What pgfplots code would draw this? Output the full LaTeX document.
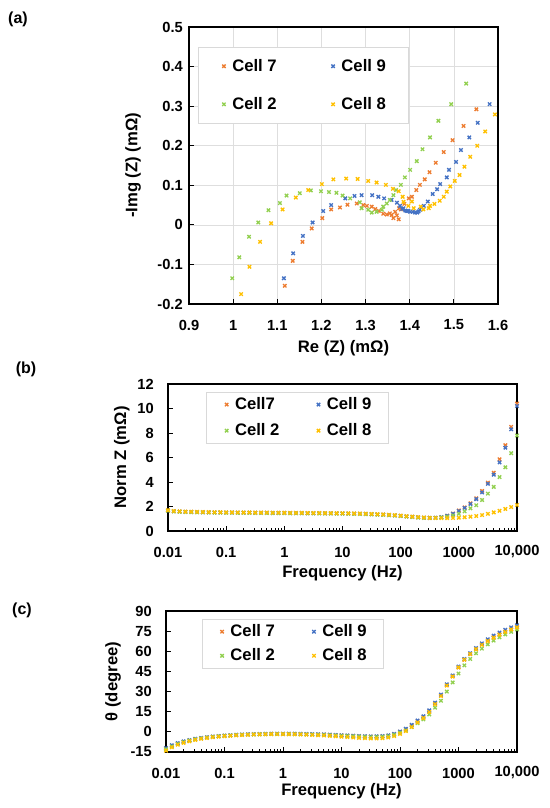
\documentclass[border=0pt]{standalone}
\usepackage{fontspec}
\setmainfont{Liberation Sans}
\usepackage{pgfplots}
\pgfplotsset{compat=1.18}
\usepackage{pgfplotstable}
\definecolor{cA}{HTML}{ED7D31}
\definecolor{cB}{HTML}{4472C4}
\definecolor{cC}{HTML}{92D050}
\definecolor{cD}{HTML}{FFC000}

\pgfplotstableread{
f z7 z9 z2 z8 t7 t9 t2 t8
0.01    1.68 1.66 1.65 1.70  -12.5 -12.0 -13.0 -14.0
0.01259 1.62 1.61 1.60 1.63  -10.4 -10.0 -10.8 -11.5
0.01585 1.59 1.58 1.57 1.60  -8.7 -8.4 -9.0 -9.6
0.01995 1.57 1.56 1.55 1.58  -7.4 -7.1 -7.6 -8.2
0.02512 1.56 1.55 1.54 1.57  -6.3 -6.1 -6.5 -7.0
0.03162 1.55 1.54 1.53 1.56  -5.4 -5.2 -5.6 -6.0
0.03981 1.54 1.53 1.52 1.55  -4.7 -4.5 -4.8 -5.2
0.05012 1.53 1.52 1.51 1.54  -4.1 -4.0 -4.2 -4.6
0.06310 1.52 1.51 1.50 1.53  -3.6 -3.5 -3.7 -4.0
0.07943 1.52 1.51 1.50 1.53  -3.2 -3.1 -3.3 -3.6
0.1     1.51 1.50 1.49 1.52  -2.9 -2.8 -3.0 -3.2
0.1259  1.51 1.50 1.49 1.52  -2.6 -2.5 -2.7 -2.9
0.1585  1.50 1.49 1.48 1.51  -2.3 -2.2 -2.4 -2.6
0.1995  1.50 1.49 1.48 1.51  -2.1 -2.0 -2.2 -2.4
0.2512  1.50 1.49 1.48 1.51  -1.9 -1.8 -2.0 -2.2
0.3162  1.49 1.48 1.47 1.50  -1.8 -1.7 -1.9 -2.0
0.3981  1.49 1.48 1.47 1.50  -1.7 -1.6 -1.8 -1.9
0.5012  1.49 1.48 1.47 1.50  -1.6 -1.5 -1.7 -1.8
0.6310  1.48 1.47 1.46 1.49  -1.5 -1.4 -1.6 -1.7
0.7943  1.48 1.47 1.46 1.49  -1.5 -1.4 -1.6 -1.7
1       1.48 1.47 1.46 1.49  -1.5 -1.4 -1.6 -1.7
1.259   1.47 1.46 1.45 1.48  -1.5 -1.4 -1.6 -1.8
1.585   1.47 1.46 1.45 1.48  -1.5 -1.4 -1.7 -1.8
1.995   1.47 1.46 1.45 1.48  -1.6 -1.5 -1.8 -1.9
2.512   1.46 1.45 1.44 1.47  -1.7 -1.6 -1.9 -2.1
3.162   1.46 1.45 1.44 1.47  -1.8 -1.7 -2.0 -2.3
3.981   1.46 1.45 1.44 1.47  -1.9 -1.8 -2.1 -2.5
5.012   1.45 1.44 1.43 1.46  -2.0 -1.9 -2.3 -2.7
6.310   1.45 1.44 1.43 1.46  -2.2 -2.1 -2.5 -3.0
7.943   1.44 1.43 1.42 1.45  -2.4 -2.3 -2.7 -3.3
10      1.44 1.43 1.42 1.45  -2.6 -2.5 -2.9 -3.6
12.59   1.43 1.42 1.41 1.44  -2.8 -2.7 -3.1 -3.9
15.85   1.42 1.41 1.40 1.43  -3.0 -2.9 -3.3 -4.2
19.95   1.41 1.40 1.39 1.42  -3.2 -3.1 -3.5 -4.5
25.12   1.40 1.39 1.38 1.41  -3.4 -3.3 -3.7 -4.7
31.62   1.38 1.37 1.36 1.39  -3.5 -3.4 -3.8 -4.9
39.81   1.36 1.35 1.34 1.37  -3.5 -3.3 -3.8 -4.9
50.12   1.34 1.33 1.32 1.35  -3.3 -3.1 -3.6 -4.7
63.10   1.31 1.30 1.29 1.32  -2.8 -2.6 -3.2 -4.2
79.43   1.28 1.27 1.26 1.29  -1.7 -1.5 -2.2 -3.2
100     1.24 1.23 1.22 1.25  0.0 0.3 -0.6 -1.5
125.9   1.20 1.19 1.18 1.21  1.9 2.3 1.0 0.6
158.5   1.16 1.15 1.14 1.17  4.8 5.2 3.6 3.6
199.5   1.12 1.11 1.10 1.13  8.0 8.5 6.5 7.0
251.2   1.09 1.08 1.07 1.10  11.0 11.6 9.3 10.3
316.2   1.07 1.07 1.06 1.07  15.4 16.0 13.0 14.8
398.1   1.08 1.08 1.07 1.06  21.1 21.8 18.0 20.6
501.2   1.13 1.13 1.10 1.05  27.0 27.8 23.2 26.7
631.0   1.25 1.24 1.17 1.05  34.7 35.4 30.0 34.5
794.3   1.42 1.40 1.27 1.06  41.3 42.0 36.8 41.2
1000    1.68 1.63 1.40 1.08  48.0 48.6 43.5 48.0
1259    1.93 1.88 1.60 1.12  53.7 54.3 49.5 53.8
1585    2.26 2.20 1.85 1.17  57.9 58.6 54.3 58.0
1995    2.67 2.60 2.10 1.22  61.6 62.4 58.5 61.6
2512    3.27 3.15 2.53 1.30  65.0 65.9 62.0 64.8
3162    3.95 3.85 3.05 1.40  68.0 69.0 65.2 67.6
3981    4.76 4.60 3.60 1.52  70.5 71.7 68.0 70.1
5012    5.85 5.60 4.40 1.65  72.7 74.0 70.4 72.3
6310    7.00 6.80 5.20 1.80  74.7 76.0 72.6 74.4
7943    8.50 8.30 6.35 1.95  76.4 77.8 74.5 76.2
10000   10.40 10.20 7.80 2.12 78.0 79.3 76.3 77.8
}\freqdata

\pgfplotsset{
  myax/.style={
    scale only axis,
    axis line style={line width=1.2pt},
    tick align=inside,
    xtick pos=bottom, ytick pos=left,
    major tick length=3.5pt, minor tick length=2pt,
    tick style={black, line width=0.6pt},
    /pgf/number format/assume math mode=true,
    tick label style={font=\fontsize{11}{13}\selectfont\bfseries},
    label style={font=\fontsize{12.5}{15}\selectfont\bfseries},
    xticklabel style={anchor=center, yshift=-15.75pt},
    legend columns=2,
    legend cell align=left,
  },
  mk/.style={only marks, mark=x, mark size=1.8pt, color=#1,
    mark options={line width=1pt},
    legend image code/.code={\path[draw=none,fill=none] (0cm,0cm) -- (0.3cm,0cm); \draw[##1] plot coordinates {(0.15cm,0cm)};}},
  fqax/.style={
    xmin=0.01, xmax=10000,
    xtick={0.01,0.1,1,10,100,1000,10000},
    xticklabels={0.01,0.1,1,10,100,1000,{10,000}},
    minor xtick={0.02,0.03,0.04,0.05,0.06,0.07,0.08,0.09,0.2,0.3,0.4,0.5,0.6,0.7,0.8,0.9,2,3,4,5,6,7,8,9,20,30,40,50,60,70,80,90,200,300,400,500,600,700,800,900,2000,3000,4000,5000,6000,7000,8000,9000},
    xlabel={Frequency (Hz)},
  },
}

\begin{document}
\begin{tikzpicture}
\useasboundingbox (0,0) rectangle (412.5pt,606pt);

% ---------------- (a)
\begin{axis}[myax,
  at={(141.75pt,378pt)}, anchor=south west,
  width=231.75pt, height=207.75pt,
  xmin=0.9, xmax=1.6, ymin=-0.2, ymax=0.5,
  xtick={0.9,1,1.1,1.2,1.3,1.4,1.5,1.6},
  xticklabels={0.9,1,1.1,1.2,1.3,1.4,1.5,1.6},
  ytick={-0.2,-0.1,0,0.1,0.2,0.3,0.4,0.5},
  yticklabels={-0.2,-0.1,0,0.1,0.2,0.3,0.4,0.5},
  yticklabel style={anchor=east, inner sep=0pt, xshift=-4.5pt},
  grid=major, major grid style={black!13, line width=0.4pt},
  xlabel={Re (Z) (mΩ)}, ylabel={-Img (Z) (mΩ)},
  xlabel style={at={(axis description cs:0.5,-0.159)}, anchor=center},
  ylabel style={at={(axis description cs:-0.181,0.5)}, anchor=center},
  legend style={at={(0.029,0.928)}, anchor=north west, draw=black!15, fill=white,
    inner xsep=15pt, inner ysep=7pt, row sep=14pt,
    font=\fontsize{12.5}{15}\selectfont\bfseries,
    /tikz/every even column/.append style={column sep=36pt}},
]
\addplot[mk=cA] coordinates {
(1.117,-0.154) (1.135,-0.091) (1.157,-0.043) (1.178,-0.009) (1.202,0.017) (1.222,0.039)
(1.242,0.044) (1.259,0.051) (1.280,0.054) (1.295,0.050) (1.303,0.048) (1.314,0.046)
(1.322,0.040) (1.330,0.035) (1.340,0.028) (1.348,0.026) (1.355,0.029) (1.359,0.025)
(1.363,0.017) (1.367,0.033) (1.371,0.024) (1.375,0.014) (1.376,0.042) (1.380,0.039)
(1.388,0.053) (1.398,0.067) (1.405,0.071) (1.415,0.088) (1.423,0.101) (1.434,0.115)
(1.445,0.133) (1.459,0.157) (1.477,0.184) (1.497,0.214) (1.522,0.250) (1.551,0.292)
};
\addlegendentry{Cell 7}
\addplot[mk=cB] coordinates {
(1.115,-0.135) (1.136,-0.072) (1.158,-0.028) (1.180,0.006) (1.204,0.035) (1.222,0.050)
(1.254,0.067) (1.275,0.073) (1.291,0.075) (1.315,0.075) (1.329,0.071) (1.342,0.067)
(1.359,0.063) (1.371,0.056) (1.378,0.048) (1.383,0.040) (1.386,0.042) (1.390,0.036)
(1.394,0.035) (1.397,0.035) (1.401,0.033) (1.407,0.033) (1.412,0.031) (1.417,0.031)
(1.420,0.034) (1.423,0.038) (1.432,0.048) (1.441,0.059) (1.452,0.078) (1.462,0.090)
(1.469,0.103) (1.484,0.120) (1.489,0.139) (1.505,0.159) (1.516,0.189) (1.535,0.221)
(1.554,0.258) (1.581,0.305)
};
\addlegendentry{Cell 9}
\addplot[mk=cC] coordinates {
(0.998,-0.135) (1.014,-0.082) (1.036,-0.030) (1.057,0.006) (1.080,0.037) (1.106,0.055)
(1.121,0.074) (1.151,0.080) (1.176,0.087) (1.199,0.085) (1.217,0.083) (1.234,0.081)
(1.248,0.074) (1.265,0.067) (1.287,0.057) (1.291,0.042) (1.306,0.038) (1.314,0.031)
(1.325,0.033) (1.337,0.038) (1.340,0.046) (1.348,0.054) (1.355,0.063) (1.363,0.075)
(1.369,0.088) (1.380,0.101) (1.389,0.120) (1.401,0.139) (1.416,0.161) (1.429,0.191)
(1.446,0.221) (1.465,0.263) (1.494,0.305) (1.528,0.357)
};
\addlegendentry{Cell 2}
\addplot[mk=cD] coordinates {
(1.018,-0.175) (1.037,-0.106) (1.061,-0.043) (1.086,0.004) (1.112,0.039) (1.142,0.069)
(1.170,0.088) (1.201,0.103) (1.227,0.115) (1.256,0.117) (1.282,0.116) (1.306,0.111)
(1.325,0.107) (1.346,0.101) (1.362,0.091) (1.375,0.085) (1.384,0.071) (1.386,0.058)
(1.397,0.048) (1.405,0.059) (1.409,0.042) (1.425,0.046) (1.431,0.039) (1.443,0.042)
(1.446,0.048) (1.456,0.053) (1.468,0.061) (1.477,0.071) (1.484,0.084) (1.492,0.097)
(1.502,0.111) (1.513,0.126) (1.524,0.147) (1.537,0.172) (1.553,0.200) (1.571,0.236)
(1.593,0.279)
};
\addlegendentry{Cell 8}
\end{axis}

% ---------------- (b)
\begin{axis}[myax, xmode=log, fqax,
  at={(126pt,207.75pt)}, anchor=south west,
  width=261.75pt, height=110.25pt,
  ymin=0, ymax=12, ytick={0,2,4,6,8,10,12},
  yticklabel style={anchor=east, inner sep=0pt, xshift=-10.5pt},
  ylabel={Norm Z (mΩ)},
  xlabel style={at={(axis description cs:0.5,-0.286)}, anchor=center},
  ylabel style={at={(axis description cs:-0.132,0.5)}, anchor=center},
  legend style={at={(0.109,0.946)}, anchor=north west, draw=black!15, fill=white,
    inner xsep=11pt, inner ysep=2pt, row sep=5pt,
    font=\fontsize{12.5}{15}\selectfont\bfseries,
    /tikz/every even column/.append style={column sep=23pt}},
]
\addplot[mk=cA] table[x=f,y=z7] {\freqdata};
\addlegendentry{Cell7}
\addplot[mk=cB] table[x=f,y=z9] {\freqdata};
\addlegendentry{Cell 9}
\addplot[mk=cC] table[x=f,y=z2] {\freqdata};
\addlegendentry{Cell 2}
\addplot[mk=cD] table[x=f,y=z8] {\freqdata};
\addlegendentry{Cell 8}
\end{axis}

% ---------------- (c)
\begin{axis}[myax, xmode=log, fqax,
  at={(124.5pt,42pt)}, anchor=south west,
  width=263.25pt, height=105.75pt,
  ymin=-15, ymax=90, ytick={-15,0,15,30,45,60,75,90},
  yticklabel style={anchor=east, inner sep=0pt, xshift=-10.5pt},
  ylabel={θ (degree)},
  xlabel style={at={(axis description cs:0.5,-0.277)}, anchor=center},
  ylabel style={at={(axis description cs:-0.151,0.5)}, anchor=center},
  legend style={at={(0.103,0.943)}, anchor=north west, draw=black!15, fill=white,
    inner xsep=10.5pt, inner ysep=2pt, row sep=3.5pt,
    font=\fontsize{12.5}{15}\selectfont\bfseries,
    /tikz/every even column/.append style={column sep=23pt}},
]
\addplot[mk=cA] table[x=f,y=t7] {\freqdata};
\addlegendentry{Cell 7}
\addplot[mk=cB] table[x=f,y=t9] {\freqdata};
\addlegendentry{Cell 9}
\addplot[mk=cC] table[x=f,y=t2] {\freqdata};
\addlegendentry{Cell 2}
\addplot[mk=cD] table[x=f,y=t8] {\freqdata};
\addlegendentry{Cell 8}
\end{axis}

\node[font=\fontsize{12}{14}\selectfont\bfseries] at (13.5pt,591.75pt) {(a)};
\node[font=\fontsize{12}{14}\selectfont\bfseries] at (19.5pt,329.25pt) {(b)};
\node[font=\fontsize{12}{14}\selectfont\bfseries] at (16.5pt,148.5pt) {(c)};
\end{tikzpicture}
\end{document}
